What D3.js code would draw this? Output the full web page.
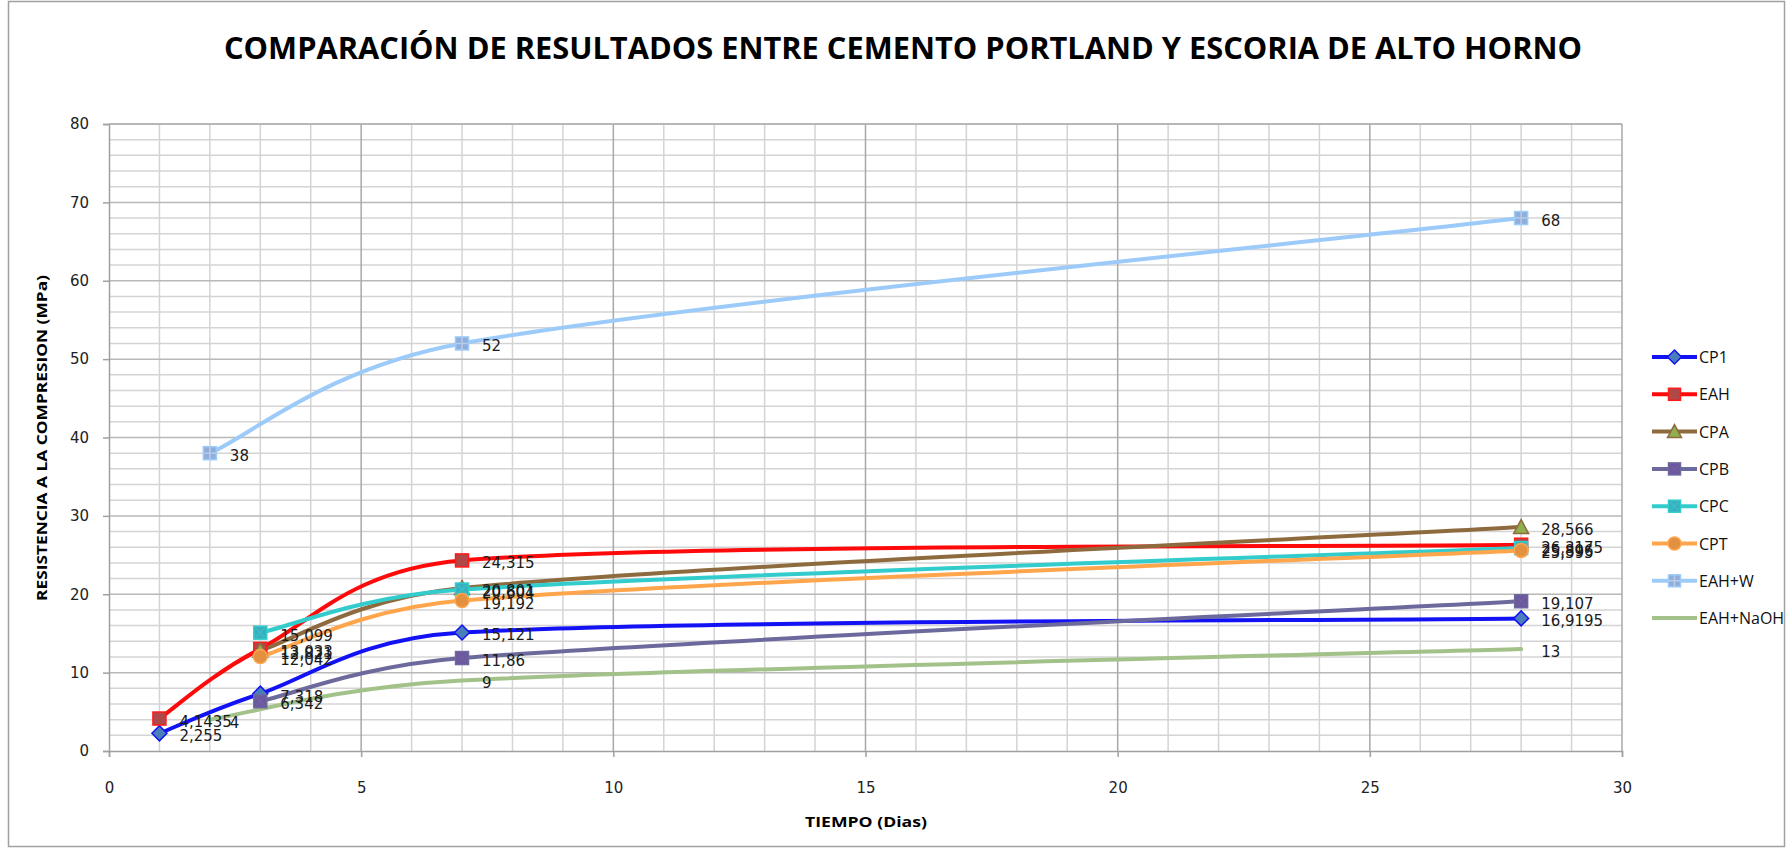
<!DOCTYPE html>
<html>
<head>
<meta charset="utf-8">
<script src="https://cdn.jsdelivr.net/npm/d3@7"></script>
<style>
  html, body { margin: 0; padding: 0; background: #fff; }
  svg { display: block; }
</style>
</head>
<body>
<svg id="chart" width="1791" height="850"></svg>
<script>
// Compressive strength (MPa) versus curing time (days)
const seriesNames = ["CP1", "EAH", "CPA", "CPB", "CPC", "CPT", "EAH+W", "EAH+NaOH"];
const cp1Days = [1, 3, 7, 28];
const cp1Values = [2.255, 7.318, 15.121, 16.9195];
const eahDays = [1, 3, 7, 28];
const eahValues = [4.1435, 13.033, 24.315, 26.3175];
const cpaDays = [3, 7, 28];
const cpaValues = [12.821, 20.801, 28.566];
const cpbDays = [3, 7, 28];
const cpbValues = [6.342, 11.86, 19.107];
const cpcDays = [3, 7, 28];
const cpcValues = [15.099, 20.604, 25.896];
const cptDays = [3, 7, 28];
const cptValues = [12.042, 19.192, 25.595];
const eahwDays = [2, 7, 28];
const eahwValues = [38, 52, 68];
const eahnaohDays = [2, 7, 28];
const eahnaohValues = [4, 9, 13];
const xTicks = [0, 5, 10, 15, 20, 25, 30];
const yTicks = [0, 10, 20, 30, 40, 50, 60, 70, 80];

const fmt = v => String(v).replace(".", ",");

const series = [
  { name: "CP1", days: cp1Days, values: cp1Values, line: "#1212F5", fill: "#4A7EBB", stroke: "#1212F5", marker: "diamond" },
  { name: "EAH", days: eahDays, values: eahValues, line: "#FF0A0A", fill: "#B04848", stroke: "#FF1A1A", marker: "square" },
  { name: "CPA", days: cpaDays, values: cpaValues, line: "#8E6B3E", fill: "#8FAE4E", stroke: "#8E6B3E", marker: "triangle" },
  { name: "CPB", days: cpbDays, values: cpbValues, line: "#6C6A9C", fill: "#6E56A0", stroke: "#6C6A9C", marker: "squareX" },
  { name: "CPC", days: cpcDays, values: cpcValues, line: "#33CCCC", fill: "#3AAFBF", stroke: "#33CCCC", marker: "squareX" },
  { name: "CPT", days: cptDays, values: cptValues, line: "#FFA64D", fill: "#E39040", stroke: "#FFA64D", marker: "circle" },
  { name: "EAH+W", days: eahwDays, values: eahwValues, line: "#9CCBFA", fill: "#8FAEDB", stroke: "#9CCBFA", marker: "squareGrid" },
  { name: "EAH+NaOH", days: eahnaohDays, values: eahnaohValues, line: "#A3C28A", fill: "none", stroke: "none", marker: "none" }
];

const svg = d3.select("#chart");
const W = 1791, H = 850;
const plot = { left: 109, right: 1622, top: 124, bottom: 751 };

svg.append("rect").attr("x", 0).attr("y", 0).attr("width", W).attr("height", H).attr("fill", "#fff");
svg.append("rect").attr("x", 8.5).attr("y", 1.5).attr("width", 1776).attr("height", 845)
  .attr("fill", "none").attr("stroke", "#A0A0A0").attr("stroke-width", 1.5);

const x = d3.scaleLinear().domain([0, 30]).range([plot.left, plot.right]);
const y = d3.scaleLinear().domain([0, 80]).range([plot.bottom, plot.top]);

// gridlines: minor first, then major
const grid = svg.append("g");
d3.range(1, 30).filter(d => d % 5 !== 0).forEach(d => {
  grid.append("line").attr("x1", x(d)).attr("x2", x(d)).attr("y1", plot.top).attr("y2", plot.bottom)
    .attr("stroke", "#D4D4D4").attr("stroke-width", 1.5);
});
d3.range(2, 80, 2).filter(d => d % 10 !== 0).forEach(d => {
  grid.append("line").attr("x1", plot.left).attr("x2", plot.right).attr("y1", y(d)).attr("y2", y(d))
    .attr("stroke", "#D4D4D4").attr("stroke-width", 1.5);
});
yTicks.filter(d => d > 0).forEach(d => {
  grid.append("line").attr("x1", plot.left).attr("x2", plot.right).attr("y1", y(d)).attr("y2", y(d))
    .attr("stroke", "#B8B8B8").attr("stroke-width", 1.5);
});
xTicks.filter(d => d > 0).forEach(d => {
  grid.append("line").attr("x1", x(d)).attr("x2", x(d)).attr("y1", plot.top).attr("y2", plot.bottom)
    .attr("stroke", "#A8A8A8").attr("stroke-width", 1.5);
});

// axes
const xAxis = d3.axisBottom(x).tickValues(xTicks).tickSize(6).tickPadding(25).tickFormat(d3.format("d"));
const yAxis = d3.axisLeft(y).tickValues(yTicks).tickSize(6).tickPadding(14).tickFormat(d3.format("d"));

const gx = svg.append("g").attr("transform", `translate(0,${plot.bottom})`).call(xAxis);
const gy = svg.append("g").attr("transform", `translate(${plot.left},0)`).call(yAxis);
[gx, gy].forEach(g => {
  g.select(".domain").attr("stroke", "#A0A0A0").attr("stroke-width", 1.5);
  g.selectAll(".tick line").attr("stroke", "#A0A0A0").attr("stroke-width", 1.5);
  g.selectAll(".tick text").attr("fill", "#222").style("font-family", "'DejaVu Sans', sans-serif").style("font-size", "15px");
});

// top border of the plot area
svg.append("line").attr("x1", plot.left).attr("x2", plot.right).attr("y1", plot.top).attr("y2", plot.top)
  .attr("stroke", "#B0B0B0").attr("stroke-width", 1.5);

// title
svg.append("text").attr("x", 903).attr("y", 59).attr("text-anchor", "middle")
  .attr("textLength", 1358).attr("lengthAdjust", "spacingAndGlyphs")
  .style("font-family", "'Open Sans', sans-serif").style("font-weight", "bold").style("font-size", "31px")
  .attr("fill", "#000")
  .text("COMPARACIÓN DE RESULTADOS ENTRE CEMENTO PORTLAND Y ESCORIA DE ALTO HORNO");

// axis titles
svg.append("text").attr("x", 866).attr("y", 827).attr("text-anchor", "middle")
  .attr("textLength", 122).attr("lengthAdjust", "spacingAndGlyphs")
  .style("font-family", "'Open Sans', sans-serif").style("font-weight", "bold").style("font-size", "14px")
  .text("TIEMPO (Dias)");
svg.append("text").attr("transform", "translate(47,438) rotate(-90)").attr("text-anchor", "middle")
  .attr("textLength", 326).attr("lengthAdjust", "spacingAndGlyphs")
  .style("font-family", "'Open Sans', sans-serif").style("font-weight", "bold").style("font-size", "14px")
  .text("RESISTENCIA A LA COMPRESION (MPa)");

// marker drawing
function drawMarker(g, s, cx, cy, size) {
  const h = size / 2;
  if (s.marker === "diamond") {
    g.append("path").attr("d", `M${cx},${cy - h - 1}L${cx + h + 1},${cy}L${cx},${cy + h + 1}L${cx - h - 1},${cy}Z`)
      .attr("fill", s.fill).attr("stroke", s.stroke).attr("stroke-width", 1.5);
  } else if (s.marker === "square" || s.marker === "squareX" || s.marker === "squareGrid") {
    g.append("rect").attr("x", cx - h).attr("y", cy - h).attr("width", size).attr("height", size)
      .attr("fill", s.fill).attr("stroke", s.stroke).attr("stroke-width", 1.5);
    if (s.marker === "squareX") {
      g.append("path").attr("d", `M${cx - h + 2},${cy - h + 2}L${cx + h - 2},${cy + h - 2}M${cx + h - 2},${cy - h + 2}L${cx - h + 2},${cy + h - 2}`)
        .attr("stroke", s.stroke).attr("stroke-width", 1.2).attr("opacity", 0.7);
    }
    if (s.marker === "squareGrid") {
      g.append("path").attr("d", `M${cx},${cy - h}L${cx},${cy + h}M${cx - h},${cy}L${cx + h},${cy}`)
        .attr("stroke", "#B8CCE8").attr("stroke-width", 1.5);
    }
  } else if (s.marker === "triangle") {
    g.append("path").attr("d", `M${cx},${cy - h - 1}L${cx + h + 1},${cy + h}L${cx - h - 1},${cy + h}Z`)
      .attr("fill", s.fill).attr("stroke", s.stroke).attr("stroke-width", 1.5);
  } else if (s.marker === "circle") {
    g.append("circle").attr("cx", cx).attr("cy", cy).attr("r", h + 0.5)
      .attr("fill", s.fill).attr("stroke", s.stroke).attr("stroke-width", 1.5);
  }
}

// Spreadsheet-style smoothed line: cardinal Bezier handles (1/6 of the neighbour chord)
// clamped to half of the segment length so that short segments do not loop.
function smoothPath(pts) {
  const p = d3.path();
  const n = pts.length;
  const dist = (a, b) => Math.hypot(b[0] - a[0], b[1] - a[1]);
  p.moveTo(pts[0][0], pts[0][1]);
  for (let i = 0; i < n - 1; i++) {
    const p0 = pts[Math.max(i - 1, 0)], p1 = pts[i], p2 = pts[i + 1], p3 = pts[Math.min(i + 2, n - 1)];
    const d12 = dist(p1, p2), d02 = dist(p0, p2), d13 = dist(p1, p3);
    let f1 = 1 / 6, f2 = 1 / 6;
    if (d02 / 6 > d12 / 2 && d02 > 0) f1 = d12 / (2 * d02);
    if (d13 / 6 > d12 / 2 && d13 > 0) f2 = d12 / (2 * d13);
    const c1 = [p1[0] + f1 * (p2[0] - p0[0]), p1[1] + f1 * (p2[1] - p0[1])];
    const c2 = [p2[0] - f2 * (p3[0] - p1[0]), p2[1] - f2 * (p3[1] - p1[1])];
    p.bezierCurveTo(c1[0], c1[1], c2[0], c2[1], p2[0], p2[1]);
  }
  return p.toString();
}

const linesG = svg.append("g");
const marksG = svg.append("g");
series.forEach(s => {
  const pts = s.days.map((d, i) => [x(d), y(s.values[i])]);
  linesG.append("path").attr("d", smoothPath(pts))
    .attr("fill", "none").attr("stroke", s.line).attr("stroke-width", 4)
    .attr("stroke-linejoin", "round").attr("stroke-linecap", "round");
});
series.forEach(s => {
  s.days.forEach((d, i) => drawMarker(marksG, s, x(d), y(s.values[i]), 13));
});

// data labels
const labelsG = svg.append("g");
series.forEach(s => {
  s.days.forEach((d, i) => {
    labelsG.append("text").attr("x", x(d) + 20).attr("y", y(s.values[i]) + 8)
      .style("font-family", "'DejaVu Sans', sans-serif").style("font-size", "15px")
      .attr("fill", "#1a1a1a").text(fmt(s.values[i]));
  });
});

// legend
const legend = svg.append("g");
series.forEach((s, i) => {
  const ly = 357 + i * 37.3;
  legend.append("line").attr("x1", 1652).attr("x2", 1697).attr("y1", ly).attr("y2", ly)
    .attr("stroke", s.line).attr("stroke-width", 4);
  drawMarker(legend, s, 1674.5, ly, 12);
  legend.append("text").attr("x", 1699).attr("y", ly + 6)
    .style("font-family", "'Open Sans', sans-serif").style("font-size", "16px").attr("fill", "#111")
    .text(s.name);
});
</script>
</body>
</html>
